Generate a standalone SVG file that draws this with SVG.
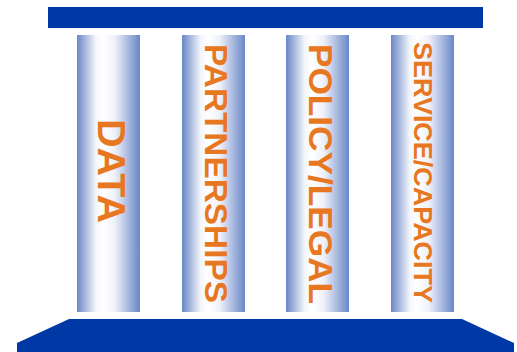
<svg xmlns="http://www.w3.org/2000/svg" width="517" height="352" viewBox="0 0 517 352">
  <defs>
    <linearGradient id="colGrad" x1="0" y1="0" x2="1" y2="0">
      <stop offset="0" stop-color="#6A87C8"/>
      <stop offset="0.3" stop-color="#F4F6FB"/>
      <stop offset="0.42" stop-color="#FFFFFF"/>
      <stop offset="0.6" stop-color="#EEF1F9"/>
      <stop offset="1" stop-color="#6A87C8"/>
    </linearGradient>
  </defs>
  <style>
    .bar { fill: #0039A6; }
    .col { fill: url(#colGrad); }
    .lbl { font-family: "Liberation Sans", Arial, sans-serif; font-weight: bold; fill: #E87722; text-anchor: middle; }
  </style>
  <rect width="517" height="352" fill="#FFFFFF"/>
  <g id="roof">
    <rect class="bar" x="48" y="7" width="435" height="21"/>
  </g>
  <g id="base">
    <polygon class="bar" points="69,319 462,319 514,343 514,352 17,352 17,343"/>
  </g>
  <g id="pillar-data">
    <rect class="col" x="77" y="35" width="63" height="277"/>
    <text class="lbl" font-size="38" textLength="104" lengthAdjust="spacingAndGlyphs" transform="translate(98,171) rotate(90)">DATA</text>
  </g>
  <g id="pillar-partnerships">
    <rect class="col" x="182" y="35" width="63" height="277"/>
    <text class="lbl" font-size="31.5" textLength="259" lengthAdjust="spacingAndGlyphs" transform="translate(205,173.5) rotate(90)">PARTNERSHIPS</text>
  </g>
  <g id="pillar-policy">
    <rect class="col" x="286" y="35" width="63" height="277"/>
    <text class="lbl" font-size="32.5" textLength="260" lengthAdjust="spacingAndGlyphs" transform="translate(308.5,174) rotate(90)">POLICY/LEGAL</text>
  </g>
  <g id="pillar-service">
    <rect class="col" x="391" y="35" width="63" height="277"/>
    <text class="lbl" font-size="26.5" textLength="261" lengthAdjust="spacingAndGlyphs" transform="translate(414,172.5) rotate(90)">SERVICE/CAPACITY</text>
  </g>
  <g id="connectors"/>
</svg>
